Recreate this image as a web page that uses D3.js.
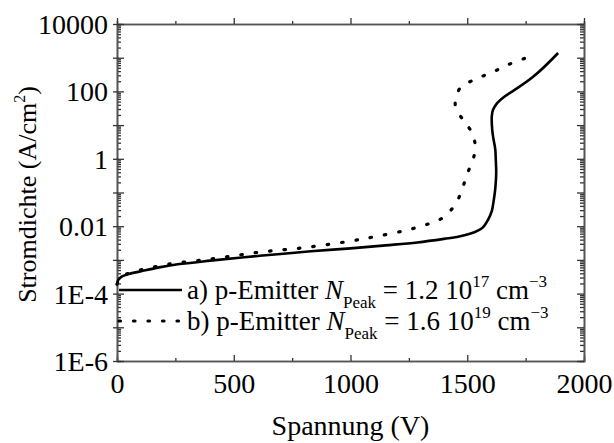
<!DOCTYPE html>
<html>
<head>
<meta charset="utf-8">
<script src="https://cdn.jsdelivr.net/npm/d3@7"></script>
</head>
<body style="margin:0">
<svg id="chart" width="614" height="443"></svg>
<script>
const SERIF = "Liberation Serif";

// Curve a) p-Emitter N_Peak = 1.2e17 cm^-3 : voltage (V) and current density (A/cm^2)
const voltA = [0, 5, 20, 50, 103, 180, 260, 400, 545, 700, 830, 1000, 1150, 1286, 1400, 1470,
  1530, 1565, 1590, 1605, 1612, 1620, 1624, 1622, 1620, 1612, 1607, 1605, 1610, 1628, 1660, 1700, 1782, 1889];
const currA = [1.9e-4, 2.5e-4, 3.2e-4, 3.8e-4, 4.6e-4, 6.0e-4, 7.4e-4, 9.5e-4, 1.2e-3, 1.5e-3, 1.8e-3,
  2.2e-3, 2.7e-3, 3.3e-3, 4.2e-3, 5.0e-3, 6.6e-3, 8.9e-3, 1.6e-2, 2.8e-2, 5.0e-2, 0.13, 0.39, 1.0, 1.9,
  4.0, 7.2, 18, 28, 45, 71, 107, 270, 1380];

// Curve b) p-Emitter N_Peak = 1.6e19 cm^-3
const voltB = [0, 20, 50, 94, 218, 419, 611, 799, 987, 1111, 1239, 1338, 1402, 1453, 1479, 1500, 1526,
  1534, 1525, 1500, 1483, 1449, 1462, 1483, 1547, 1611, 1675, 1745];
const currB = [1.9e-4, 3.2e-4, 4.0e-4, 4.9e-4, 7.4e-4, 1.1e-3, 1.7e-3, 2.3e-3, 3.5e-3, 5.0e-3, 7.6e-3,
  1.2e-2, 1.9e-2, 5.0e-2, 0.13, 0.36, 1.0, 2.3, 5.0, 10, 14, 37, 105, 150, 250, 380, 620, 950];

// Axis ticks
const xTicks = [0, 500, 1000, 1500, 2000];
const xMinorTicks = [250, 750, 1250, 1750];
const yDecades = [1e-6, 1e-5, 1e-4, 1e-3, 1e-2, 1e-1, 1, 10, 100, 1000, 1e4];
const yLabelValues = [1e-6, 1e-4, 1e-2, 1, 100, 1e4];
const yLabelTexts = ["1E-6", "1E-4", "0.01", "1", "100", "10000"];

const svg = d3.select("#chart");
const L = 117, R = 584, T = 24, B = 361;

const x = d3.scaleLinear().domain([0, 2000]).range([L, R]);
const y = d3.scaleLog().domain([1e-6, 1e4]).range([B, T]);

const yMinor = [];
yDecades.slice(0, -1).forEach(d => { for (let k = 2; k <= 9; k++) yMinor.push(d * k); });

const labelFor = v => {
  const i = yLabelValues.findIndex(u => Math.abs(Math.log10(u) - Math.log10(v)) < 1e-6);
  return i >= 0 ? yLabelTexts[i] : "";
};

function styleAxis(g) {
  g.attr("font-family", SERIF).attr("font-size", 28);
  g.select(".domain").attr("stroke", "#555").attr("stroke-width", 1.6);
  g.selectAll(".tick line").attr("stroke", "#333").attr("stroke-width", 1.3);
  g.selectAll(".tick text").attr("fill", "#000").style("font-family", SERIF);
}

// bottom axis: ticks pointing inward
svg.append("g").attr("transform", `translate(0,${B})`)
  .call(d3.axisBottom(x).tickValues(xMinorTicks).tickSize(-3).tickFormat(""))
  .call(styleAxis);
svg.append("g").attr("transform", `translate(0,${B})`)
  .call(d3.axisBottom(x).tickValues(xTicks).tickSizeInner(-6).tickSizeOuter(0).tickPadding(12).tickFormat(d3.format("d")))
  .call(styleAxis);

// top axis: ticks pointing outward
svg.append("g").attr("transform", `translate(0,${T})`)
  .call(d3.axisTop(x).tickValues(xMinorTicks).tickSize(3).tickFormat(""))
  .call(styleAxis);
svg.append("g").attr("transform", `translate(0,${T})`)
  .call(d3.axisTop(x).tickValues(xTicks).tickSizeInner(6).tickSizeOuter(0).tickFormat(""))
  .call(styleAxis);

// left axis: minor ticks inward, decade ticks crossing the axis line
svg.append("g").attr("transform", `translate(${L},0)`)
  .call(d3.axisLeft(y).tickValues(yMinor).tickSize(-4).tickFormat(""))
  .call(styleAxis);
const leftMajor = svg.append("g").attr("transform", `translate(${L},0)`)
  .call(d3.axisLeft(y).tickValues(yDecades).tickSizeInner(-7).tickSizeOuter(0).tickPadding(9).tickFormat(labelFor))
  .call(styleAxis);
leftMajor.selectAll(".tick").append("line").attr("x1", -4).attr("x2", 0)
  .attr("stroke", "#333").attr("stroke-width", 1.3);
leftMajor.selectAll(".tick text").attr("dy", "0.34em");

// right axis: ticks pointing inward
svg.append("g").attr("transform", `translate(${R},0)`)
  .call(d3.axisRight(y).tickValues(yMinor).tickSize(-4).tickFormat(""))
  .call(styleAxis);
svg.append("g").attr("transform", `translate(${R},0)`)
  .call(d3.axisRight(y).tickValues(yDecades).tickSizeInner(-7).tickSizeOuter(0).tickFormat(""))
  .call(styleAxis);

// curves
const line = d3.line().x(d => x(d[0])).y(d => y(d[1])).curve(d3.curveCatmullRom.alpha(0.5));
const ptsA = voltA.map((v, i) => [v, currA[i]]);
const ptsB = voltB.map((v, i) => [v, currB[i]]);

svg.append("path").attr("d", line(ptsB)).attr("fill", "none")
  .attr("stroke", "#000").attr("stroke-width", 3.2)
  .attr("stroke-linecap", "round").attr("stroke-dasharray", "1.5,13");
svg.append("path").attr("d", line(ptsA)).attr("fill", "none")
  .attr("stroke", "#000").attr("stroke-width", 2.6);

// legend
const legendRows = [
  { dash: null, label: "a) p-Emitter ", n: "1.2 10", exp: "17", yv: 290 },
  { dash: "1.5,13", label: "b) p-Emitter ", n: "1.6 10", exp: "19", yv: 321 }
];
legendRows.forEach(r => {
  const ln = svg.append("line").attr("x1", 119).attr("x2", 182).attr("y1", r.yv).attr("y2", r.yv)
    .attr("stroke", "#000").attr("stroke-width", r.dash ? 3.2 : 2.6);
  if (r.dash) ln.attr("stroke-dasharray", r.dash).attr("stroke-linecap", "round");
  const t = svg.append("text").attr("x", 187).attr("y", r.yv + 9)
    .style("font-family", SERIF).attr("font-size", 27);
  t.append("tspan").text(r.label);
  t.append("tspan").attr("font-style", "italic").text("N");
  t.append("tspan").attr("font-size", 17).attr("dy", 9).text("Peak");
  t.append("tspan").attr("dy", -9).text(" = " + r.n);
  t.append("tspan").attr("font-size", 17).attr("dy", -12).text(r.exp);
  t.append("tspan").attr("dy", 12).text(" cm");
  t.append("tspan").attr("font-size", 17).attr("dy", -12).text("\u22123");
});

// axis titles
svg.append("text").attr("x", (L + R) / 2).attr("y", 435).attr("text-anchor", "middle")
  .style("font-family", SERIF).attr("font-size", 28).text("Spannung (V)");

const yt = svg.append("text").attr("transform", `translate(36,${(T + B) / 2 + 2}) rotate(-90)`)
  .attr("text-anchor", "middle").style("font-family", SERIF).attr("font-size", 26);
yt.append("tspan").text("Stromdichte (A/cm");
yt.append("tspan").attr("font-size", 16).attr("dy", -11).text("2");
yt.append("tspan").attr("dy", 11).text(")");
</script>
</body>
</html>
